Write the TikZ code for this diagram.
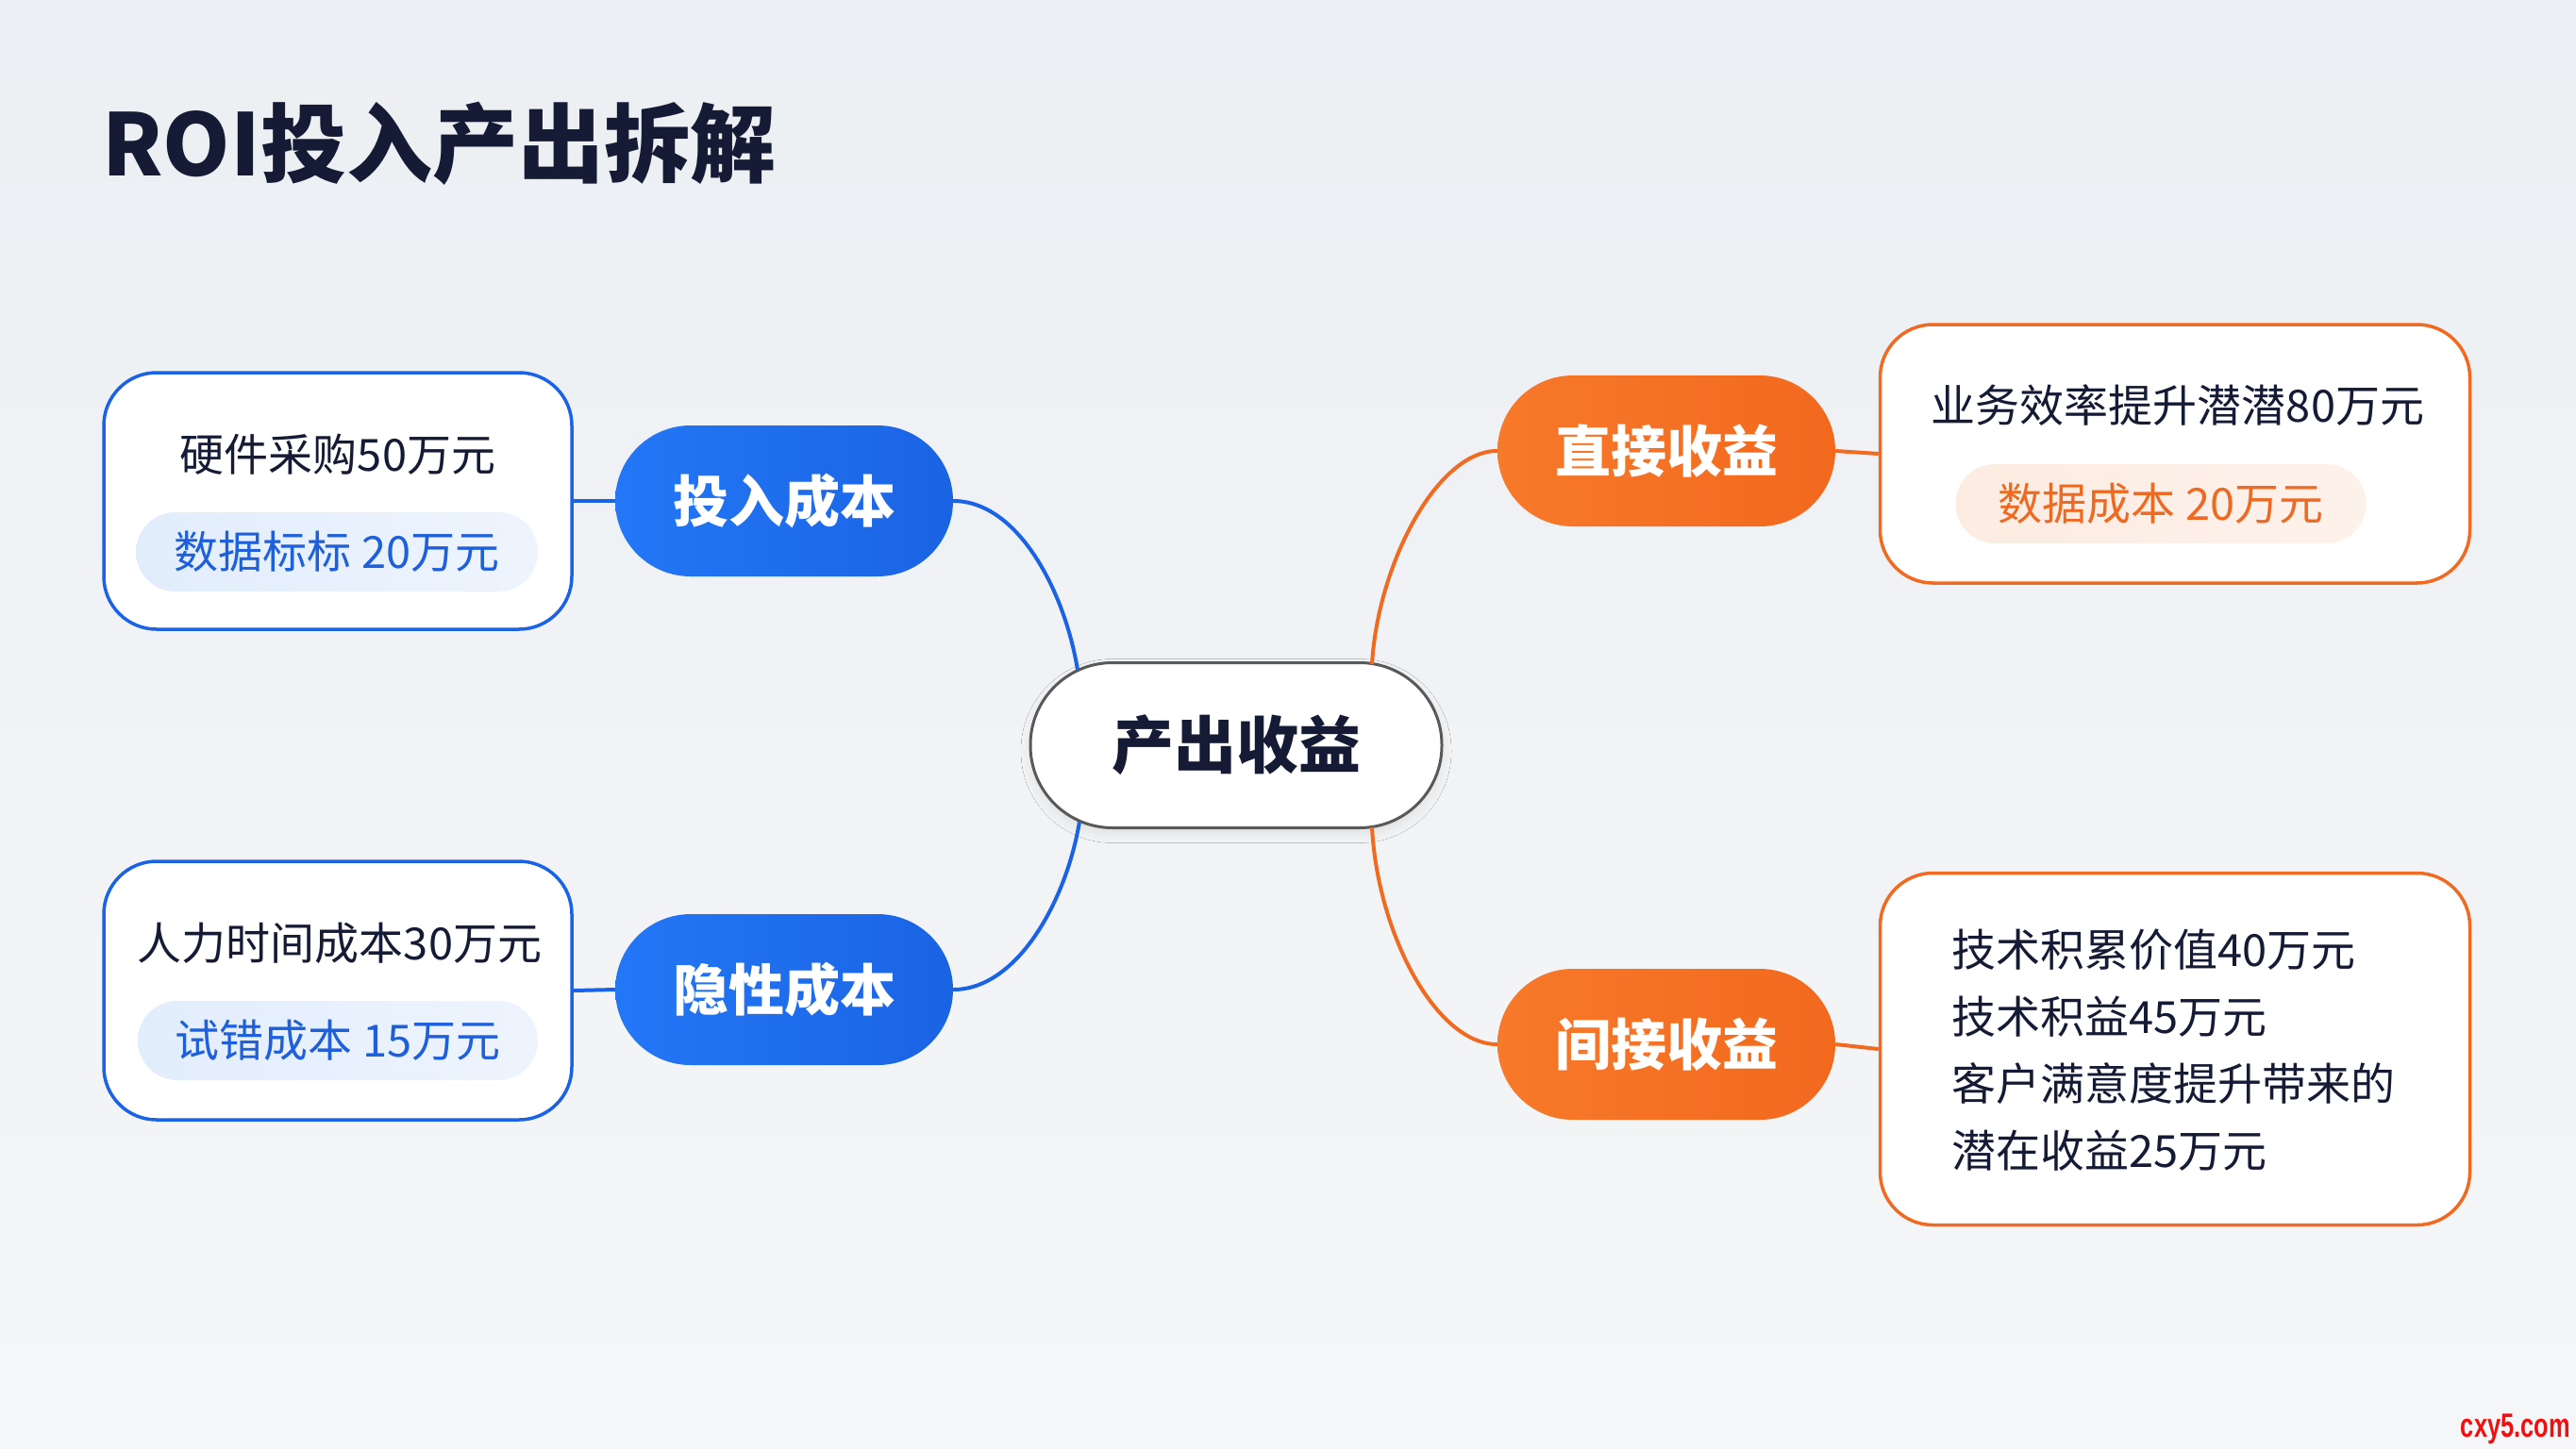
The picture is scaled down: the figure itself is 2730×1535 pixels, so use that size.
\documentclass[tikz,border=0pt]{standalone}
\usepackage{fontspec}
\setmainfont{Noto Sans CJK SC}
\newfontfamily\wmfont{Liberation Sans}
\usetikzlibrary{shadows.blur}
\definecolor{bgtop}{HTML}{ECEFF3}
\definecolor{bgbot}{HTML}{F5F6F7}
\definecolor{blueA}{HTML}{2377F6}
\definecolor{blueB}{HTML}{1A64E4}
\definecolor{blueline}{HTML}{1A62E6}
\definecolor{orangeA}{HTML}{F7792A}
\definecolor{orangeB}{HTML}{F2691E}
\definecolor{orangeline}{HTML}{F06A22}
\definecolor{navy}{HTML}{161B35}
\definecolor{bluetag}{HTML}{E2EDFC}
\definecolor{bluetagtext}{HTML}{1E5FDB}
\definecolor{orangetag}{HTML}{FCECE2}
\definecolor{orangetagtext}{HTML}{EE6A22}
\definecolor{wmred}{HTML}{F01010}
\begin{document}
\begin{tikzpicture}[x=1pt,y=-1pt,
  pill/.style={rounded corners=80pt, minimum width=358pt, minimum height=160pt, inner sep=0pt,
    text=white, font=\bfseries\fontsize{59}{66}\selectfont},
  bluepill/.style={pill, left color=blueA, right color=blueB},
  orangepill/.style={pill, left color=orangeA, right color=orangeB},
  infobox/.style={draw, line width=3.5pt, fill=white, rounded corners=56pt, inner sep=0pt},
  bluebox/.style={infobox, draw=blueline},
  orangebox/.style={infobox, draw=orangeline},
  bodytext/.style={text=navy, font=\fontsize{47}{71}\selectfont, inner sep=0pt},
  tag/.style={rounded corners=42pt, minimum height=84pt, inner sep=0pt, font=\fontsize{47}{56}\selectfont},
  bluetagst/.style={tag, left color=bluetag, right color=bluetag!60!white, text=bluetagtext},
  orangetagst/.style={tag, left color=orangetag, right color=orangetag!70!white, text=orangetagtext},
  conn/.style={line width=4pt},
]
\shade[top color=bgtop, bottom color=bgbot] (0,0) rectangle (2730,1535);
\useasboundingbox (0,0) rectangle (2730,1535);

% title
\node[anchor=west, inner sep=0pt, text=navy, font=\bfseries\fontsize{91}{100}\selectfont] (title) at (108,152) {ROI投入产出拆解};

% centre
\node[draw=black!65, line width=3pt, fill=white, rounded corners=87pt, minimum width=436pt, minimum height=175pt, inner sep=0pt,
  text=navy, font=\bfseries\fontsize{66}{72}\selectfont,
  blur shadow={shadow xshift=0pt, shadow yshift=-6pt, shadow blur radius=10pt, shadow opacity=8}] (ctr) at (1310,790) {产出收益};

% pills
\node[bluepill] (p1) at (831,531) {投入成本};
\node[bluepill] (p2) at (831,1049) {隐性成本};
\node[orangepill] (p3) at (1766,478) {直接收益};
\node[orangepill] (p4) at (1766,1107) {间接收益};

% info boxes
\node[bluebox, minimum width=496pt, minimum height=272pt] (b1) at (358,531) {};
\node[bodytext] (b1t) at (358,482) {硬件采购50万元};
\node[bluetagst, minimum width=426pt] (b1g) at (357,585) {数据标标 20万元};

\node[bluebox, minimum width=496pt, minimum height=274pt] (b2) at (358,1050) {};
\node[bodytext] (b2t) at (360,1000) {人力时间成本30万元};
\node[bluetagst, minimum width=424pt] (b2g) at (358,1103) {试错成本 15万元};

\node[orangebox, minimum width=625pt, minimum height=274pt] (b3) at (2305,481) {};
\node[bodytext] (b3t) at (2308,430) {业务效率提升潜潜80万元};
\node[orangetagst, minimum width=435pt] (b3g) at (2290,534) {数据成本 20万元};

\node[orangebox, minimum width=625pt, minimum height=373pt] (b4) at (2305,1112) {};
\node[bodytext, anchor=west, align=left] (b4t) at (2068,1113) {技术积累价值40万元\\技术积益45万元\\客户满意度提升带来的\\潜在收益25万元};

% connection points on the centre node
\coordinate (c1) at (1142,710);
\coordinate (c2) at (1144,871);
\coordinate (c3) at (1454,704);
\coordinate (c4) at (1454,877);

% connectors
\draw[conn, blueline] (b1.east) -- (p1.west);
\draw[conn, blueline] (b2.east) -- (p2.west);
\draw[conn, orangeline] (p3.east) -- (b3.west);
\draw[conn, orangeline] (p4.east) -- (b4.west);
\draw[conn, blueline] (p1.east) .. controls (1078,531) and (1128,625) .. (c1);
\draw[conn, blueline] (p2.east) .. controls (1078,1049) and (1130,955) .. (c2);
\draw[conn, orangeline] (c3) .. controls (1460,600) and (1522,478) .. (p3.west);
\draw[conn, orangeline] (c4) .. controls (1460,990) and (1522,1107) .. (p4.west);

% watermark
\node[anchor=east, inner sep=0pt, text=wmred, font=\wmfont\bfseries\fontsize{31}{32}\selectfont] (wm) at (2724,1515) {\scalebox{0.82}[1.15]{cxy5.com}};
\end{tikzpicture}
\end{document}
